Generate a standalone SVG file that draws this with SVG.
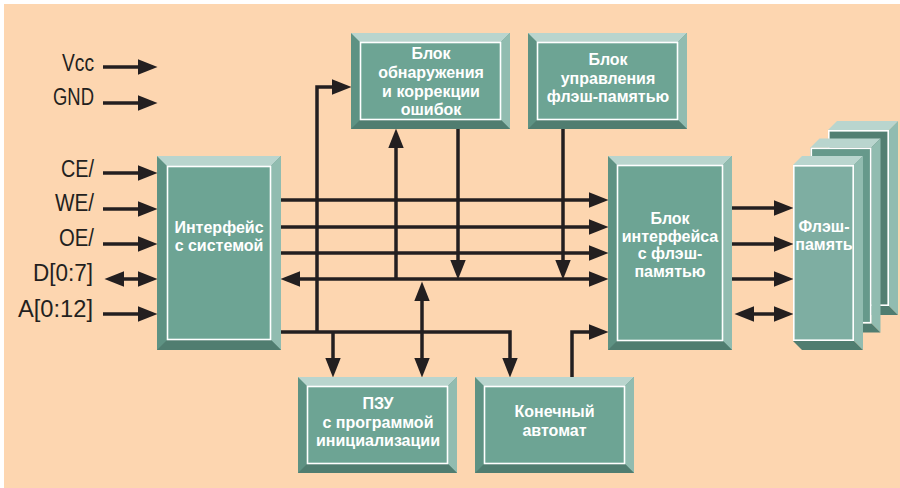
<svg xmlns="http://www.w3.org/2000/svg" width="900" height="488" viewBox="0 0 900 488">
<defs>
<style>
.lbl{font-family:"Liberation Sans",Arial,sans-serif;font-size:23px;fill:#231f20;text-anchor:end}
.bt{font-family:"Liberation Sans",Arial,sans-serif;font-size:16px;font-weight:bold;fill:#ffffff;text-anchor:middle}
.ln{fill:none;stroke:#231f20;stroke-width:3.5;stroke-linejoin:miter}
.bl{fill:#5e9283}
.bt-top{fill:#b9d5ce}
.br{fill:#91bcb0}
.bb{fill:#507d70}
.face{fill:#6da494}
.in{fill:none;stroke:#ffffff;stroke-width:1.6}
</style>
<marker id="ah" markerUnits="userSpaceOnUse" markerWidth="20" markerHeight="16" viewBox="0 0 19 15" refX="9" refY="7.5" orient="auto-start-reverse">
<path d="M0,0 L19,7.5 L0,15 Z" fill="#231f20"/>
</marker>
</defs>
<rect x="0" y="0" width="900" height="488" fill="#ffffff"/>
<rect x="4" y="4" width="896" height="484" fill="#fdd6b0"/>

<g id="labels">
<text class="lbl" x="94" y="71" textLength="32" lengthAdjust="spacingAndGlyphs">Vcc</text>
<text class="lbl" x="94" y="105" textLength="41" lengthAdjust="spacingAndGlyphs">GND</text>
<text class="lbl" x="94" y="177" textLength="33" lengthAdjust="spacingAndGlyphs">CE/</text>
<text class="lbl" x="94" y="211" textLength="39" lengthAdjust="spacingAndGlyphs">WE/</text>
<text class="lbl" x="94" y="246" textLength="35" lengthAdjust="spacingAndGlyphs">OE/</text>
<text class="lbl" x="93" y="281" textLength="60" lengthAdjust="spacingAndGlyphs">D[0:7]</text>
<text class="lbl" x="93" y="317" textLength="75" lengthAdjust="spacingAndGlyphs">A[0:12]</text>
</g>

<g id="connectors">
<line class="ln" x1="103" y1="67" x2="147" y2="67" marker-end="url(#ah)"/>
<line class="ln" x1="103" y1="103" x2="147" y2="103" marker-end="url(#ah)"/>
<line class="ln" x1="103" y1="173" x2="147" y2="173" marker-end="url(#ah)"/>
<line class="ln" x1="103" y1="209" x2="147" y2="209" marker-end="url(#ah)"/>
<line class="ln" x1="103" y1="244" x2="147" y2="244" marker-end="url(#ah)"/>
<line class="ln" x1="115" y1="279" x2="147" y2="279" marker-start="url(#ah)" marker-end="url(#ah)"/>
<line class="ln" x1="103" y1="314" x2="147" y2="314" marker-end="url(#ah)"/>

<line class="ln" x1="281" y1="200" x2="598" y2="200" marker-end="url(#ah)"/>
<line class="ln" x1="281" y1="227" x2="598" y2="227" marker-end="url(#ah)"/>
<line class="ln" x1="281" y1="253" x2="598" y2="253" marker-end="url(#ah)"/>
<line class="ln" x1="291" y1="279" x2="598" y2="279" marker-start="url(#ah)" marker-end="url(#ah)"/>

<polyline class="ln" points="281,332 510,332 510,367" marker-end="url(#ah)"/>
<polyline class="ln" points="317,332 317,87 341,87" marker-end="url(#ah)"/>
<line class="ln" x1="333" y1="332" x2="333" y2="367" marker-end="url(#ah)"/>
<line class="ln" x1="396" y1="279" x2="396" y2="139" marker-end="url(#ah)"/>
<line class="ln" x1="458" y1="129" x2="458" y2="269" marker-end="url(#ah)"/>
<line class="ln" x1="563" y1="129" x2="563" y2="269" marker-end="url(#ah)"/>
<line class="ln" x1="422" y1="292" x2="422" y2="367" marker-start="url(#ah)" marker-end="url(#ah)"/>
<polyline class="ln" points="572,377 572,332 598,332" marker-end="url(#ah)"/>

<line class="ln" x1="731" y1="208" x2="783" y2="208" marker-end="url(#ah)"/>
<line class="ln" x1="731" y1="244" x2="783" y2="244" marker-end="url(#ah)"/>
<line class="ln" x1="731" y1="279" x2="783" y2="279" marker-end="url(#ah)"/>
<line class="ln" x1="745" y1="314" x2="783" y2="314" marker-start="url(#ah)" marker-end="url(#ah)"/>
</g>

<g id="sys-interface">
<rect class="bl" x="157" y="156" width="124" height="194"/>
<polygon class="bt-top" points="157,156 281,156 271,166 167,166"/>
<polygon class="br" points="281,156 281,350 271,340 271,166"/>
<polygon class="bb" points="157,350 281,350 271,340 167,340"/>
<rect class="face" x="167" y="166" width="104" height="174"/>
<rect class="in" x="167.5" y="166.5" width="103" height="173"/>
<text class="bt" x="219" y="233">Интерфейс</text>
<text class="bt" x="219" y="251">с системой</text>
</g>

<g id="ecc">
<rect class="bl" x="351" y="33" width="159" height="96"/>
<polygon class="bt-top" points="351,33 510,33 501,42 360,42"/>
<polygon class="br" points="510,33 510,129 501,120 501,42"/>
<polygon class="bb" points="351,129 510,129 501,120 360,120"/>
<rect class="face" x="360" y="42" width="141" height="78"/>
<rect class="in" x="360.5" y="42.5" width="140" height="77"/>
<text class="bt" x="431" y="59">Блок</text>
<text class="bt" x="431" y="77.5">обнаружения</text>
<text class="bt" x="431" y="96.5">и коррекции</text>
<text class="bt" x="431" y="115">ошибок</text>
</g>

<g id="flash-control">
<rect class="bl" x="528" y="33" width="159" height="96"/>
<polygon class="bt-top" points="528,33 687,33 678,42 537,42"/>
<polygon class="br" points="687,33 687,129 678,120 678,42"/>
<polygon class="bb" points="528,129 687,129 678,120 537,120"/>
<rect class="face" x="537" y="42" width="141" height="78"/>
<rect class="in" x="537.5" y="42.5" width="140" height="77"/>
<text class="bt" x="608" y="65">Блок</text>
<text class="bt" x="608" y="83.5">управления</text>
<text class="bt" x="608" y="102">флэш-памятью</text>
</g>

<g id="flash-interface">
<rect class="bl" x="608" y="156" width="124" height="194"/>
<polygon class="bt-top" points="608,156 732,156 723,165 617,165"/>
<polygon class="br" points="732,156 732,350 723,341 723,165"/>
<polygon class="bb" points="608,350 732,350 723,341 617,341"/>
<rect class="face" x="617" y="165" width="106" height="176"/>
<rect class="in" x="617.5" y="165.5" width="105" height="175"/>
<text class="bt" x="670" y="224">Блок</text>
<text class="bt" x="670" y="241.7">интерфейса</text>
<text class="bt" x="670" y="259.3">с флэш-</text>
<text class="bt" x="670" y="277">памятью</text>
</g>

<g id="flash-memory">
<polygon class="bt-top" points="828,130 837,121 898,121 889,130"/>
<polygon class="br" points="889,130 898,121 898,315 889,306"/>
<polygon class="bb" points="828,306 889,306 898,315 837,315"/>
<rect x="828" y="130" width="61" height="176" fill="#527f72"/>
<rect class="in" x="828.8" y="130.8" width="59.4" height="174.4"/>

<polygon class="bt-top" points="810.5,147.5 819.5,138.5 880.5,138.5 871.5,147.5"/>
<polygon class="br" points="871.5,147.5 880.5,138.5 880.5,332.5 871.5,323.5"/>
<polygon class="bb" points="810.5,323.5 871.5,323.5 880.5,332.5 819.5,332.5"/>
<rect x="810.5" y="147.5" width="61" height="176" fill="#66998b"/>
<rect class="in" x="811.3" y="148.3" width="59.4" height="174.4"/>

<polygon class="bt-top" points="793,165 802,156 863,156 854,165"/>
<polygon class="br" points="854,165 863,156 863,350 854,341"/>
<polygon class="bb" points="793,341 854,341 863,350 802,350"/>
<rect x="793" y="165" width="61" height="176" fill="#7eaea2"/>
<rect class="in" x="793.8" y="165.8" width="59.4" height="174.4"/>
<text class="bt" x="824" y="232">Флэш-</text>
<text class="bt" x="824" y="250">память</text>
</g>

<g id="rom">
<rect class="bl" x="298" y="377" width="159" height="96"/>
<polygon class="bt-top" points="298,377 457,377 448,386 307,386"/>
<polygon class="br" points="457,377 457,473 448,464 448,386"/>
<polygon class="bb" points="298,473 457,473 448,464 307,464"/>
<rect class="face" x="307" y="386" width="141" height="78"/>
<rect class="in" x="307.5" y="386.5" width="140" height="77"/>
<text class="bt" x="378" y="409">ПЗУ</text>
<text class="bt" x="378" y="427.5">с программой</text>
<text class="bt" x="378" y="446">инициализации</text>
</g>

<g id="fsm">
<rect class="bl" x="475" y="377" width="159" height="96"/>
<polygon class="bt-top" points="475,377 634,377 625,386 484,386"/>
<polygon class="br" points="634,377 634,473 625,464 625,386"/>
<polygon class="bb" points="475,473 634,473 625,464 484,464"/>
<rect class="face" x="484" y="386" width="141" height="78"/>
<rect class="in" x="484.5" y="386.5" width="140" height="77"/>
<text class="bt" x="554.5" y="417">Конечный</text>
<text class="bt" x="554.5" y="435.5">автомат</text>
</g>
</svg>
